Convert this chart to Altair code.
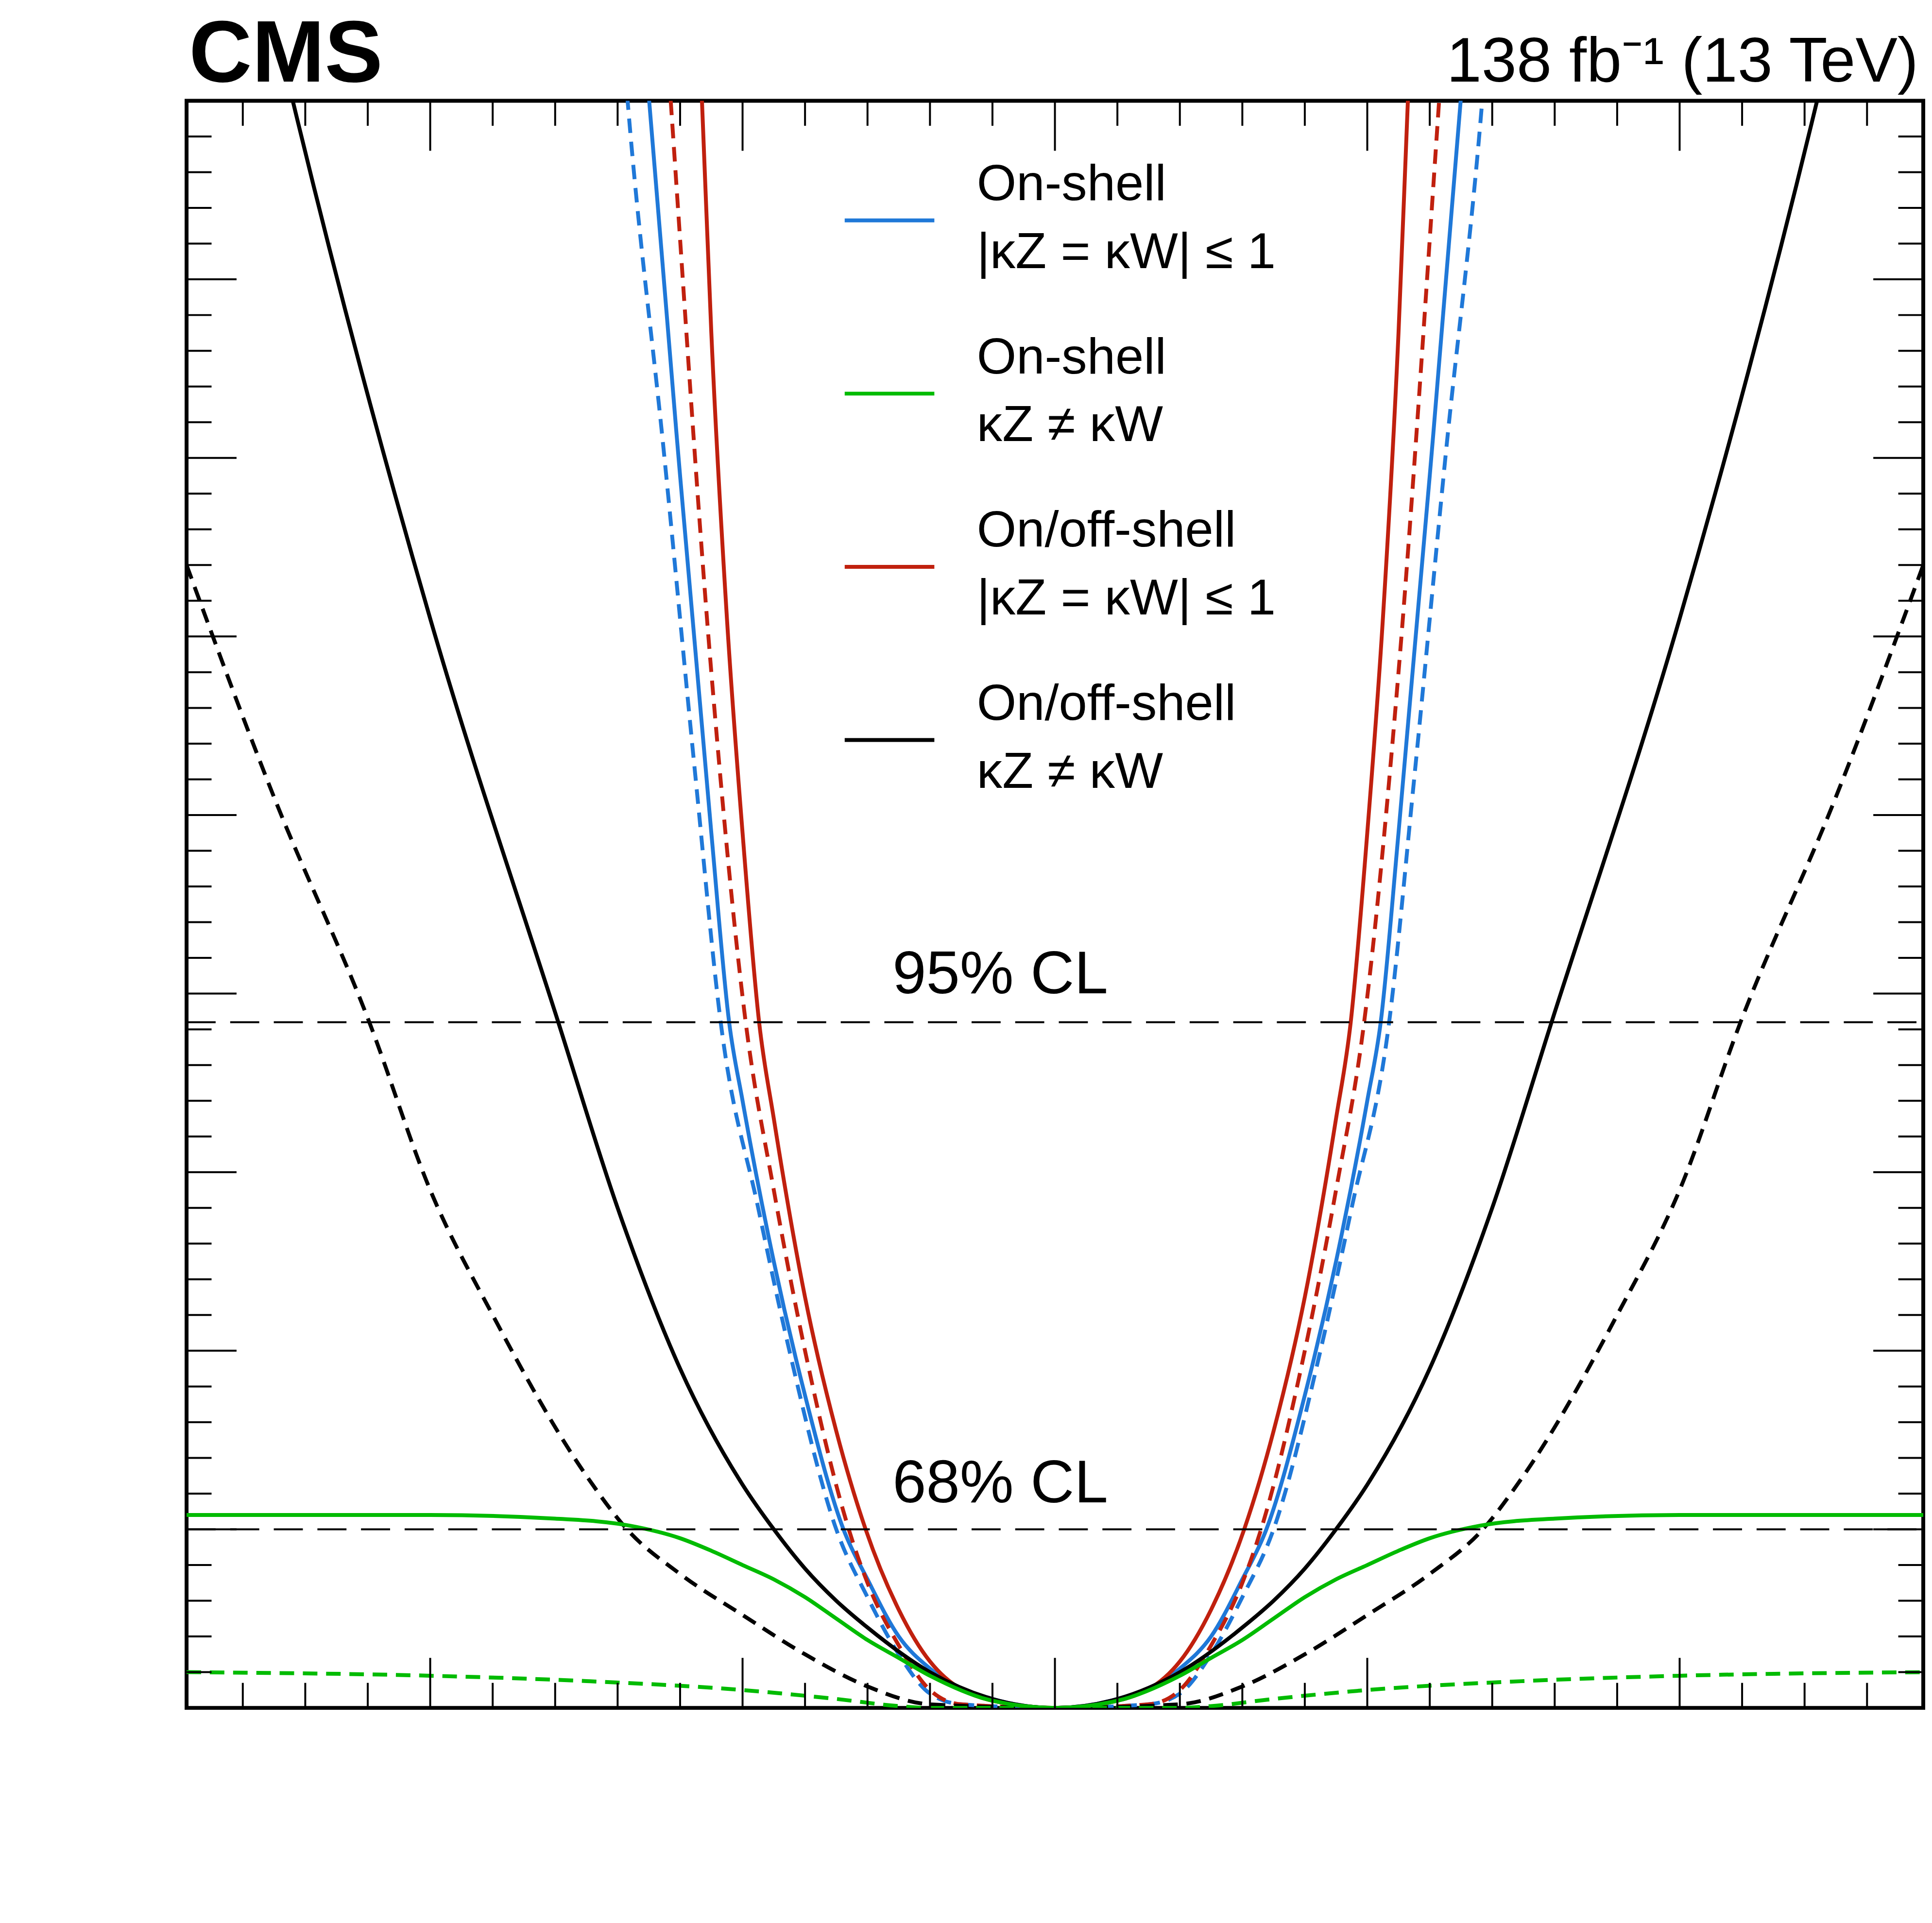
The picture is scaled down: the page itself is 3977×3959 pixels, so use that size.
import altair as alt
import pandas as pd

# positive-half samples (kappa_d, -2 dlnL); mirrored for negative side
blue_x  = [0, 200, 400, 500, 600, 677, 800, 900, 1000, 1043, 1100, 1200, 1299, 1350]
blue_y  = [0, 0.05, 0.22, 0.4, 0.72, 1.0, 1.75, 2.5, 3.4, 3.84, 4.9, 6.9, 9, 10.2]
blued_x = [0, 300, 400, 500, 600, 700, 850, 950, 1070, 1150, 1250, 1368, 1420]
blued_y = [0, 0.02, 0.08, 0.3, 0.62, 1.0, 2.0, 2.8, 3.84, 5.2, 7.0, 9, 10.2]
red_x   = [0, 200, 400, 500, 606, 700, 800, 900, 947, 1000, 1050, 1100, 1130, 1160]
red_y   = [0, 0.04, 0.26, 0.55, 1.0, 1.55, 2.3, 3.3, 3.84, 4.9, 6.1, 7.7, 9, 10.2]
redd_x  = [0, 300, 400, 500, 600, 660, 800, 900, 990, 1100, 1230, 1280]
redd_y  = [0, 0.02, 0.1, 0.35, 0.7, 1.0, 2.0, 2.9, 3.84, 5.8, 9, 10.3]
blk_x   = [0, 200, 400, 600, 700, 800, 900, 1000, 1200, 1400, 1590, 2000, 2440, 2600]
blk_y   = [0, 0.05, 0.2, 0.45, 0.6, 0.78, 1.0, 1.25, 1.9, 2.8, 3.84, 6.1, 9, 10.2]
blkd_x  = [0, 400, 600, 800, 1000, 1200, 1370, 1500, 1800, 2000, 2195, 2500, 2780]
blkd_y  = [0, 0.02, 0.12, 0.3, 0.52, 0.75, 1.0, 1.3, 2.2, 2.9, 3.84, 5.1, 6.4]
grn_x   = [0, 200, 400, 500, 600, 700, 800, 900, 1000, 1100, 1200, 1360, 1600, 2000, 2780]
grn_y   = [0, 0.04, 0.18, 0.28, 0.38, 0.5, 0.62, 0.72, 0.8, 0.88, 0.95, 1.02, 1.06, 1.08, 1.08]
grnd_x  = [0, 400, 500, 700, 1000, 1500, 2000, 2780]
grnd_y  = [0, 0.0, 0.01, 0.05, 0.1, 0.15, 0.18, 0.2]

series = [
    ("blue", blue_x, blue_y, "#1f78d8", False),
    ("blued", blued_x, blued_y, "#1f78d8", True),
    ("red", red_x, red_y, "#c0200e", False),
    ("redd", redd_x, redd_y, "#c0200e", True),
    ("blk", blk_x, blk_y, "black", False),
    ("blkd", blkd_x, blkd_y, "black", True),
    ("grn", grn_x, grn_y, "#00bb00", False),
    ("grnd", grnd_x, grnd_y, "#00bb00", True),
]

XMIN, XMAX = -2780, 2780
W, H = 3584, 3317
xs = alt.Scale(domain=[XMIN, XMAX], nice=False, zero=False)
ys = alt.Scale(domain=[0, 9], nice=False)
xmaj = [-2000, -1000, 0, 1000, 2000]
ymaj = [1, 2, 3, 4, 5, 6, 7, 8]

xaxis = alt.Axis(values=xmaj, labelFontSize=140, labelPadding=70, title="κd",
                 titleFontSize=190, titlePadding=40, titleFontWeight="normal", format="d",
                 grid=False, ticks=False, domain=False, labelFont="Liberation Sans",
                 titleFont="Liberation Sans", labelColor="black", titleColor="black")
yaxis = alt.Axis(values=[0] + ymaj + [9], labelFontSize=140, labelPadding=55,
                 title="−2 Δln L", titleFontSize=200, titlePadding=60,
                 titleFontWeight="normal", format="d", grid=False, ticks=False,
                 domain=False, labelFont="Liberation Sans", titleFont="Liberation Sans",
                 labelColor="black", titleColor="black")

layers = []
first = True
for name, sx, sy, col, dashed in series:
    xx = [-v for v in reversed(sx[1:])] + sx
    yy = list(reversed(sy[1:])) + sy
    df = pd.DataFrame({"x": xx, "y": yy})
    if first:
        ex = alt.X("x:Q", scale=xs, axis=xaxis)
        ey = alt.Y("y:Q", scale=ys, axis=yaxis)
        first = False
    else:
        ex = alt.X("x:Q", scale=xs, axis=None)
        ey = alt.Y("y:Q", scale=ys, axis=None)
    layers.append(
        alt.Chart(df).mark_line(color=col, strokeWidth=8, clip=True, interpolate="monotone",
                                **({"strokeDash": [30, 18]} if dashed else {}))
        .encode(x=ex, y=ey)
    )

def X(f="x:Q"):
    return alt.X(f, scale=xs, axis=None)

def Y(f="y:Q"):
    return alt.Y(f, scale=ys, axis=None)

# CL lines
cl_vals = [1.0, 3.84]
cl = pd.DataFrame({"y": cl_vals, "x1": [XMIN] * 2, "x2": [XMAX] * 2})
layers.append(alt.Chart(cl).mark_rule(color="black", strokeWidth=4, strokeDash=[60, 30])
              .encode(x=X("x1:Q"), x2="x2:Q", y=Y()))
cl_txt = pd.DataFrame({"x": [-520, -520], "y": [1.08, 3.93], "t": ["68% CL", "95% CL"]})
layers.append(alt.Chart(cl_txt).mark_text(align="left", baseline="bottom", fontSize=125,
                                          font="Liberation Sans")
              .encode(x=X(), y=Y(), text="t:N"))

# ticks
xmin_t = [v for v in range(-2600, 2800, 200) if v % 1000 != 0]
ymin_t = [round(i * 0.2, 1) for i in range(1, 45) if i % 5 != 0]
tk = []
for v in xmaj:
    tk += [(v, v, 0, 0.28), (v, v, 9, 8.72)]
for v in xmin_t:
    tk += [(v, v, 0, 0.14), (v, v, 9, 8.86)]
for v in ymaj:
    tk += [(XMIN, XMIN + 160, v, v), (XMAX, XMAX - 160, v, v)]
for v in ymin_t:
    tk += [(XMIN, XMIN + 80, v, v), (XMAX, XMAX - 80, v, v)]
tdf = pd.DataFrame(tk, columns=["x", "x2", "y", "y2"])
layers.append(alt.Chart(tdf).mark_rule(color="black", strokeWidth=4)
              .encode(x=X(), x2="x2:Q", y=Y(), y2="y2:Q"))

# legend
leg_y = [8.33, 7.36, 6.39, 5.42]
leg_col = ["#1f78d8", "#00bb00", "#c0200e", "black"]
leg_l1 = ["On-shell", "On-shell", "On/off-shell", "On/off-shell"]
leg_l2 = ["|κZ = κW| ≤ 1", "κZ ≠ κW", "|κZ = κW| ≤ 1", "κZ ≠ κW"]
for yv, c in zip(leg_y, leg_col):
    layers.append(alt.Chart(pd.DataFrame({"x": [-673], "x2": [-386], "y": [yv]}))
                  .mark_rule(color=c, strokeWidth=8)
                  .encode(x=X(), x2="x2:Q", y=Y()))
ldf = pd.DataFrame({"x": [-250] * 8,
                    "y": [v + 0.2 for v in leg_y] + [v - 0.18 for v in leg_y],
                    "t": leg_l1 + leg_l2})
layers.append(alt.Chart(ldf).mark_text(align="left", baseline="middle", fontSize=105,
                                       font="Liberation Sans")
              .encode(x=X(), y=Y(), text="t:N"))

# header
layers.append(alt.Chart(pd.DataFrame({"t": ["CMS"]})).mark_text(
    align="left", baseline="alphabetic", fontSize=180, fontWeight="bold",
    font="Liberation Sans").encode(x=alt.value(5), y=alt.value(-40), text="t:N"))
layers.append(alt.Chart(pd.DataFrame({"t": ["138 fb⁻¹ (13 TeV)"]})).mark_text(
    align="right", baseline="alphabetic", fontSize=130,
    font="Liberation Sans").encode(x=alt.value(W - 10), y=alt.value(-40), text="t:N"))

chart = alt.layer(*layers).properties(
    width=W, height=H,
    autosize=alt.AutoSizeParams(type="none"),
    padding={"left": 377, "top": 195, "right": 10, "bottom": 430},
).configure_view(stroke="black", strokeWidth=8)

chart.save("out.html", embed_options={"renderer": "svg", "actions": False})
